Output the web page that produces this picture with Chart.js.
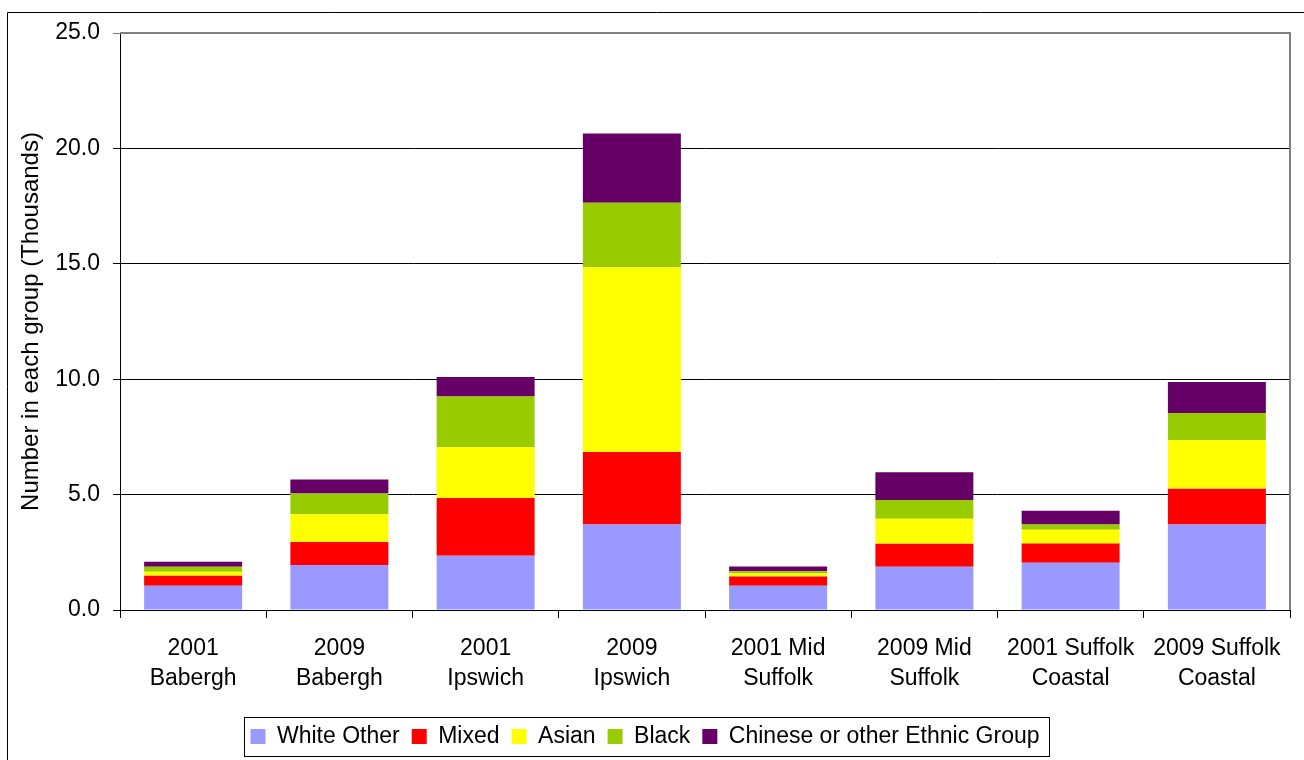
<!DOCTYPE html>
<html>
<head>
<meta charset="utf-8">
<script src="https://cdn.jsdelivr.net/npm/chart.js@4"></script>
<style>
html,body{margin:0;padding:0;background:#fff;}
canvas{display:block;}
</style>
</head>
<body>
<canvas id="c" width="1304" height="760"></canvas>
<script>
const categories = [
  ["2001", "Babergh"], ["2009", "Babergh"], ["2001", "Ipswich"], ["2009", "Ipswich"],
  ["2001 Mid", "Suffolk"], ["2009 Mid", "Suffolk"], ["2001 Suffolk", "Coastal"], ["2009 Suffolk", "Coastal"]
];
const whiteOther = [1.05, 1.95, 2.35, 3.70, 1.05, 1.87, 2.05, 3.70];
const mixed      = [0.43, 1.00, 2.50, 3.15, 0.40, 1.00, 0.83, 1.55];
const asian      = [0.18, 1.20, 2.20, 8.00, 0.13, 1.08, 0.60, 2.12];
const black      = [0.21, 0.90, 2.20, 2.80, 0.10, 0.82, 0.22, 1.17];
const chinese    = [0.22, 0.60, 0.85, 3.00, 0.20, 1.20, 0.60, 1.34];
const yTicks = [0, 5, 10, 15, 20, 25];

const FONT = "'Liberation Sans', Arial, sans-serif";

const frame = {
  id: 'frame',
  afterDraw(chart) {
    const ctx = chart.ctx;
    const a = chart.chartArea;
    ctx.save();
    // outer chart border
    ctx.strokeStyle = '#000';
    ctx.lineWidth = 1;
    ctx.beginPath();
    ctx.moveTo(7.5, 800);
    ctx.lineTo(7.5, 12.5);
    ctx.lineTo(1400, 12.5);
    ctx.stroke();
    // plot area border (top & right, gray)
    ctx.strokeStyle = '#808080';
    ctx.lineWidth = 2;
    ctx.beginPath();
    ctx.moveTo(a.left, a.top);
    ctx.lineTo(a.right, a.top);
    ctx.lineTo(a.right, a.bottom);
    ctx.stroke();
    // legend border
    const lg = chart.legend;
    if (lg && lg.legendHitBoxes && lg.legendHitBoxes.length) {
      let l = Infinity, r = -Infinity, t = Infinity, b = -Infinity;
      lg.legendHitBoxes.forEach(h => {
        l = Math.min(l, h.left); r = Math.max(r, h.left + h.width);
        t = Math.min(t, h.top); b = Math.max(b, h.top + h.height);
      });
      ctx.strokeStyle = '#000';
      ctx.lineWidth = 1;
      ctx.strokeRect(Math.round(l - 6) + 0.5, Math.round(t - 8) + 0.5, Math.round(r - l + 16), Math.round(b - t + 16));
    }
    ctx.restore();
  }
};

new Chart(document.getElementById('c'), {
  type: 'bar',
  data: {
    labels: categories,
    datasets: [
      { label: 'White Other', data: whiteOther, backgroundColor: '#9999FF' },
      { label: 'Mixed', data: mixed, backgroundColor: '#FF0000' },
      { label: 'Asian', data: asian, backgroundColor: '#FFFF00' },
      { label: 'Black', data: black, backgroundColor: '#99CC00' },
      { label: 'Chinese or other Ethnic Group', data: chinese, backgroundColor: '#660066' }
    ]
  },
  options: {
    responsive: false,
    animation: false,
    devicePixelRatio: 1,
    layout: { padding: { left: 0, top: 33, right: 14, bottom: 2 } },
    datasets: { bar: { barPercentage: 0.67, categoryPercentage: 1.0, borderWidth: 0 } },
    plugins: {
      tooltip: { enabled: false },
      legend: {
        position: 'bottom',
        labels: {
          font: { family: FONT, size: 23 },
          color: '#000',
          boxWidth: 15,
          boxHeight: 15,
          padding: 12
        }
      }
    },
    scales: {
      x: {
        stacked: true,
        afterFit(s) { s.height = 103; },
        border: { display: true, color: '#000', width: 1 },
        grid: { display: true, drawOnChartArea: false, drawTicks: true, tickLength: 8, color: '#000', offset: true },
        ticks: {
          font: { family: FONT, size: 23, lineHeight: 1.3 },
          color: '#000',
          padding: 16,
          maxRotation: 0,
          autoSkip: false
        }
      },
      y: {
        stacked: true,
        min: 0,
        max: 25,
        afterFit(s) { s.width = 120; },
        afterBuildTicks(s) { s.ticks = yTicks.map(v => ({ value: v })); },
        border: { display: true, color: '#000', width: 1 },
        grid: {
          color: ctx => (ctx.tick && ctx.tick.value === 25) ? '#808080' : '#000',
          tickLength: 7,
          lineWidth: 1
        },
        ticks: {
          font: { family: FONT, size: 23 },
          color: '#000',
          padding: 13,
          callback: v => Number(v).toFixed(1)
        },
        title: {
          display: true,
          text: 'Number in each group (Thousands)',
          font: { family: FONT, size: 24 },
          color: '#000',
          padding: { top: 17, bottom: 0 }
        }
      }
    }
  },
  plugins: [frame]
});
</script>
</body>
</html>
